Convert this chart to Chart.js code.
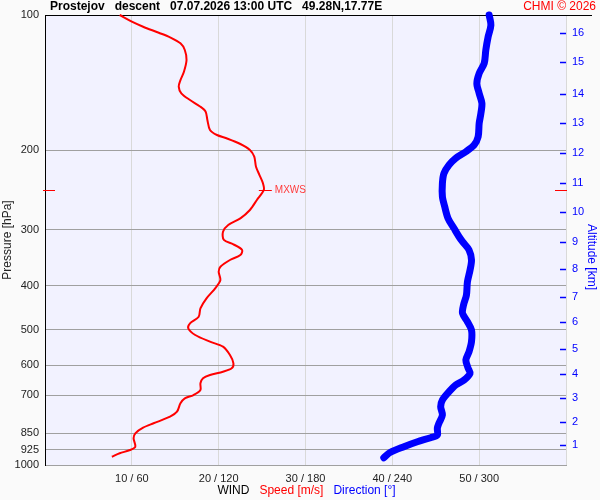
<!DOCTYPE html>
<html lang="en">
<head>
<meta charset="UTF-8">
<title>Prostejov descent</title>
<script src="https://cdn.jsdelivr.net/npm/chart.js"></script>
<style>
  body { margin: 0; background: #fafafa; }
</style>
</head>
<body>
<canvas id="windChart" width="600" height="500"></canvas>
<script>
  // wind speed [m/s] against pressure [hPa]
  const speedPres = [100, 103.5, 106.2, 109.5, 112.1, 115.6, 119.6, 125.9, 133.7, 139.5, 144.3, 149.3, 154.5, 159.9, 164.0, 171.1, 180.1, 184.8, 187.9, 193.5, 199.5, 206.5, 217.3, 226.8, 236.6, 244.8, 257.7, 271.2, 283.0, 292.9, 303.1, 316.2, 323.3, 332.8, 341.5, 350.3, 362.5, 371.9, 388.1, 404.9, 426.2, 448.6, 468.3, 484.4, 496.9, 514.2, 532.1, 545.9, 569.7, 594.3, 609.7, 620.4, 631.0, 641.7, 658.3, 681.3, 699.0, 711.0, 729.4, 761.3, 781.0, 807.8, 826.2, 850.3, 872.3, 910.5, 926.1, 941.9, 958.5];
  const speedVals = [8.6, 10.0, 11.3, 13.1, 14.4, 15.6, 16.1, 16.3, 16.0, 15.6, 15.4, 15.7, 16.7, 17.9, 18.5, 18.7, 19.0, 19.8, 20.9, 22.5, 23.6, 24.1, 24.3, 24.7, 25.1, 25.2, 24.4, 23.6, 22.5, 21.1, 20.5, 20.6, 21.7, 22.7, 22.5, 21.3, 20.2, 20.0, 20.2, 19.6, 18.6, 17.9, 17.7, 16.7, 16.5, 17.3, 19.0, 20.5, 21.3, 21.7, 21.5, 20.5, 19.0, 18.2, 17.9, 17.9, 17.1, 16.1, 15.6, 15.2, 14.4, 12.5, 11.3, 10.4, 10.2, 10.4, 9.8, 8.6, 7.7];

  // wind direction [deg] against pressure [hPa]
  const dirPres = [100, 105.3, 111.8, 119.6, 128.0, 134.8, 141.9, 149.3, 157.1, 165.4, 174.1, 186.4, 194.5, 201.3, 208.1, 215.4, 224.8, 236.6, 253.4, 266.7, 283.0, 297.9, 311.0, 319.0, 332.8, 350.3, 368.7, 391.5, 419.2, 441.0, 460.2, 480.5, 501.2, 532.1, 560.2, 584.5, 609.7, 625.5, 647.3, 664.1, 687.2, 717.2, 742.1, 774.3, 807.8, 828.7, 857.7, 869.6, 887.7, 910.5, 937.1, 963.3];
  const dirVals = [306.9, 308.1, 306.2, 304.6, 303.5, 300.0, 298.4, 300.0, 301.9, 301.2, 300.0, 299.3, 296.5, 290.8, 283.8, 279.2, 275.7, 274.6, 274.6, 276.2, 278.5, 282.6, 286.1, 288.5, 293.0, 294.7, 293.7, 291.9, 291.2, 289.2, 288.5, 291.9, 294.7, 294.7, 293.0, 290.8, 292.4, 293.7, 289.6, 283.8, 279.2, 274.6, 273.4, 274.6, 272.2, 271.1, 271.1, 266.5, 257.3, 248.0, 238.7, 234.1];

  // axes
  const pressureTicks = [100, 200, 300, 400, 500, 600, 700, 850, 925, 1000];
  const altKm = [1, 2, 3, 4, 5, 6, 7, 8, 9, 10, 11, 12, 13, 14, 15, 16];
  const altPres = [903, 802, 710, 628, 552, 481, 423, 367, 320, 274, 236, 203, 174, 150, 127, 109.5];

  // max wind
  const mxwsPres = 245;
  const mxwsSpeed = 25.2;

  const titleText = 'Prostejov   descent   07.07.2026 13:00 UTC   49.28N,17.77E';
  const fontFam = "'Liberation Sans', Arial, sans-serif";

  Chart.defaults.font.family = fontFam;
  Chart.defaults.font.size = 11;
  Chart.defaults.color = '#222';

  const decor = {
    id: 'decor',
    beforeDraw(chart) {
      const { ctx, chartArea: a } = chart;
      ctx.save();
      ctx.fillStyle = '#fafafa';
      ctx.fillRect(0, 0, chart.width, chart.height);
      ctx.fillStyle = '#f2f2ff';
      ctx.fillRect(a.left, a.top, a.right - a.left, a.bottom - a.top);
      ctx.restore();
    },
    beforeDatasetsDraw(chart) {
      const { ctx, chartArea: a, scales } = chart;
      ctx.save();
      // top frame line
      ctx.strokeStyle = '#000';
      ctx.lineWidth = 1;
      ctx.beginPath();
      ctx.moveTo(a.left + 1, a.top + 0.5);
      ctx.lineTo(592, a.top + 0.5);
      ctx.stroke();
      // altitude ticks inside the frame
      ctx.strokeStyle = '#0000ff';
      ctx.lineWidth = 1.5;
      altPres.forEach(p => {
        const y = Math.round(scales.yAlt.getPixelForValue(p)) + 0.5;
        ctx.beginPath();
        ctx.moveTo(a.right - 6, y);
        ctx.lineTo(a.right, y);
        ctx.stroke();
      });
      // max wind markers
      const my = Math.round(scales.y.getPixelForValue(mxwsPres)) + 0.5;
      const mx = scales.x.getPixelForValue(mxwsSpeed);
      ctx.strokeStyle = '#ff0000';
      ctx.lineWidth = 1;
      ctx.beginPath();
      ctx.moveTo(a.left - 2, my); ctx.lineTo(a.left + 10, my);
      ctx.moveTo(a.right - 11, my); ctx.lineTo(a.right + 1, my);
      ctx.moveTo(mx - 5, my); ctx.lineTo(mx + 8, my);
      ctx.stroke();
      ctx.font = '10px ' + fontFam;
      ctx.textBaseline = 'middle';
      ctx.fillStyle = '#ff3c3c';
      ctx.fillText('MXWS', mx + 11, my);
      ctx.restore();
    },
    afterDraw(chart) {
      const { ctx, chartArea: a } = chart;
      ctx.save();
      ctx.textBaseline = 'middle';
      ctx.font = 'bold 12px ' + fontFam;
      ctx.fillStyle = '#000';
      ctx.textAlign = 'left';
      ctx.fillText(titleText, 50, 7);
      ctx.font = '12px ' + fontFam;
      ctx.fillStyle = '#ff0000';
      ctx.textAlign = 'right';
      ctx.fillText('CHMI \u00a9 2026', 596, 7);

      // altitude axis title, reading downwards
      ctx.save();
      ctx.translate(591, 257);
      ctx.rotate(Math.PI / 2);
      ctx.textAlign = 'center';
      ctx.fillStyle = '#0000ff';
      ctx.fillText('Altitude [km]', 0, 0);
      ctx.restore();

      // x axis title in three colours
      const parts = [['WIND', '#000'], ['Speed [m/s]', '#ff0000'], ['Direction [\u00b0]', '#0000ff']];
      const gap = 10;
      ctx.textAlign = 'left';
      const widths = parts.map(p => ctx.measureText(p[0]).width);
      const total = widths.reduce((s, w) => s + w, 0) + gap * (parts.length - 1);
      let x = (a.left + a.right) / 2 - total / 2 + 1;
      parts.forEach((p, i) => {
        ctx.fillStyle = p[1];
        ctx.fillText(p[0], x, 491);
        x += widths[i] + gap;
      });
      ctx.restore();
    }
  };

  new Chart(document.getElementById('windChart'), {
    type: 'scatter',
    data: {
      datasets: [{
        label: 'Speed',
        data: speedPres.map((p, i) => ({ x: speedVals[i], y: p })),
        xAxisID: 'x',
        yAxisID: 'y',
        showLine: true,
        borderColor: '#ff0000',
        borderWidth: 2,
        pointRadius: 0,
        tension: 0.3,
        clip: false
      }, {
        label: 'Direction',
        data: dirPres.map((p, i) => ({ x: dirVals[i], y: p })),
        xAxisID: 'xDir',
        yAxisID: 'y',
        showLine: true,
        borderColor: '#0000ff',
        borderWidth: 7,
        borderCapStyle: 'round',
        borderJoinStyle: 'round',
        pointRadius: 0,
        tension: 0.3,
        clip: false
      }]
    },
    options: {
      responsive: false,
      animation: false,
      layout: { padding: { top: 15, left: 0, right: 0, bottom: 0 } },
      plugins: {
        legend: { display: false },
        tooltip: { enabled: false }
      },
      scales: {
        x: {
          type: 'linear',
          position: 'bottom',
          min: 0,
          max: 60,
          afterFit(scale) { scale.height = 35; },
          ticks: {
            stepSize: 10,
            padding: 7,
            color: '#222',
            callback: v => (v === 0 || v === 60) ? '' : `${v} / ${v * 6}`
          },
          grid: {
            drawTicks: false,
            color: ctx => ctx.tick && ctx.tick.value === 0 ? 'rgba(0,0,0,0)' : '#d9d9d9'
          },
          border: { color: '#a0a0a0' }
        },
        xDir: {
          type: 'linear',
          position: 'bottom',
          min: 0,
          max: 360,
          display: false
        },
        y: {
          type: 'logarithmic',
          position: 'left',
          reverse: true,
          min: 100,
          max: 1000,
          afterFit(scale) { scale.width = 45; },
          afterBuildTicks(scale) { scale.ticks = pressureTicks.map(v => ({ value: v })); },
          ticks: {
            autoSkip: false,
            padding: 6,
            color: '#222',
            callback: v => String(v)
          },
          grid: {
            drawTicks: false,
            color: ctx => ctx.tick && ctx.tick.value === 100 ? 'rgba(0,0,0,0)' : '#a0a0a0'
          },
          border: { color: '#000' },
          title: {
            display: true,
            text: 'Pressure [hPa]',
            color: '#222',
            font: { size: 12 },
            padding: { top: 0, bottom: 2 }
          }
        },
        yAlt: {
          type: 'logarithmic',
          position: 'right',
          reverse: true,
          min: 100,
          max: 1000,
          afterFit(scale) { scale.width = 34; },
          afterBuildTicks(scale) { scale.ticks = altPres.map(v => ({ value: v })); },
          ticks: {
            autoSkip: false,
            padding: 6,
            color: '#0000ff',
            callback: v => String(altKm[altPres.indexOf(v)])
          },
          grid: { display: false, drawTicks: false },
          border: { display: false }
        }
      }
    },
    plugins: [decor]
  });
</script>
</body>
</html>
